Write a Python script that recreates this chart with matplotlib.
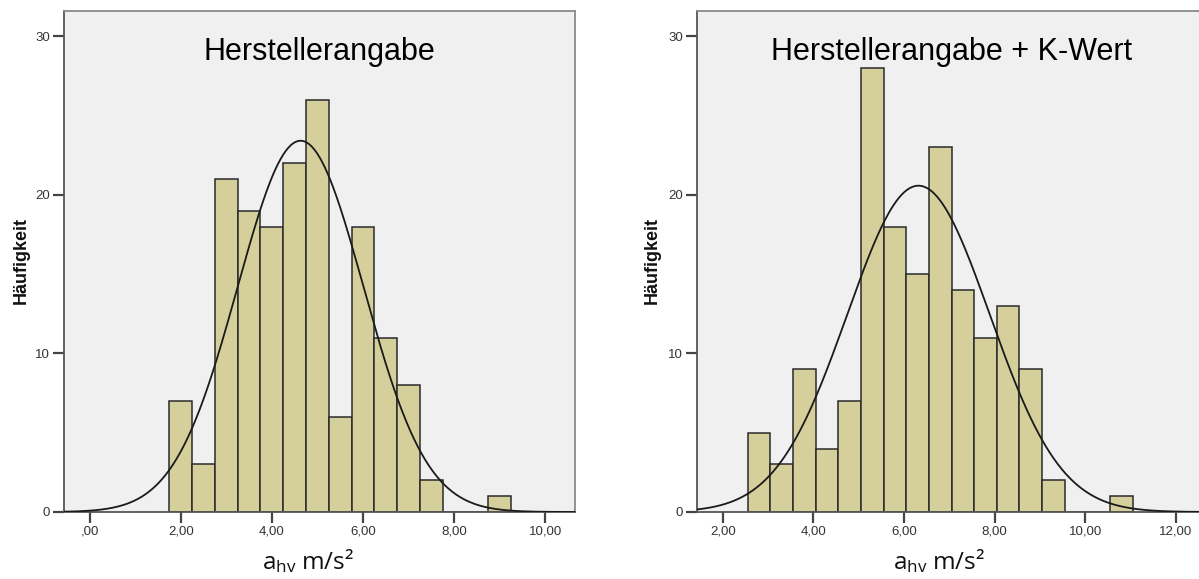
import numpy as np
import matplotlib
matplotlib.use("Agg")
import matplotlib.pyplot as plt

plt.rcParams['mathtext.fontset'] = 'custom'
plt.rcParams['mathtext.rm'] = 'Open Sans'
plt.rcParams['mathtext.it'] = 'Open Sans'

# --- Daten ---
titel = ["Herstellerangabe", "Herstellerangabe + K-Wert"]

# linkes Histogramm: Klassenbreite 0,5 ab 1,75
start_links = 1.75
counts_links = [7, 3, 21, 19, 18, 22, 26, 6, 18, 11, 8, 2, 0, 0, 1]
mittel_links = 4.63
sd_links = 1.38

# rechtes Histogramm: Klassenbreite 0,5 ab 2,55
start_rechts = 2.55
counts_rechts = [5, 3, 9, 4, 7, 28, 18, 15, 23, 14, 11, 13, 9, 2, 0, 0, 1]
mittel_rechts = 6.32
sd_rechts = 1.57

breite = 0.5
xticks_links = [0, 2, 4, 6, 8, 10]
xticks_rechts = [2, 4, 6, 8, 10, 12]
yticks = [0, 10, 20, 30]

W, H = 1199, 579
fig = plt.figure(figsize=(W / 100, H / 100), dpi=100)
fig.patch.set_facecolor("white")


def fmt(v):
    s = ("%.2f" % v).replace(".", ",")
    return s[1:] if v == 0 else s


def panel(px_left, px_width, xlim, start, counts, mu, sd, xt, title):
    ax = fig.add_axes([px_left / W, (H - 512) / H, px_width / W, (512 - 11) / H])
    ax.set_facecolor("#f0f0f0")
    edges = start + breite * np.arange(len(counts))
    ax.bar(edges, counts, width=breite, align="edge", color="#d5d09b",
           edgecolor="#2a2a2a", linewidth=1.1, zorder=2)
    n = sum(counts)
    xs = np.linspace(xlim[0], xlim[1], 400)
    ys = n * breite / (sd * np.sqrt(2 * np.pi)) * np.exp(-0.5 * ((xs - mu) / sd) ** 2)
    ax.plot(xs, ys, color="#1a1a1a", linewidth=1.3, zorder=3)
    ax.set_xlim(*xlim)
    ax.set_ylim(0, 31.6)
    ax.set_xticks(xt)
    ax.set_xticklabels([fmt(v) for v in xt])
    ax.set_yticks(yticks)
    ax.tick_params(axis="both", length=8, width=1.6, color="#444444",
                   labelsize=9.5, labelcolor="#333333", pad=2)
    for lab in ax.get_xticklabels() + ax.get_yticklabels():
        lab.set_family("Liberation Sans")
    for s in ["left", "bottom"]:
        ax.spines[s].set_color("#555555")
        ax.spines[s].set_linewidth(1.3)
    for s in ["top", "right"]:
        ax.spines[s].set_color("#8a8a8a")
        ax.spines[s].set_linewidth(1.3)
    ax.text(0.5, 1 - (52 - 11) / (512 - 11), title, transform=ax.transAxes,
            ha="center", va="center", fontsize=22, family="Liberation Sans", color="black")
    return ax


ax1 = panel(64, 511, (-0.56, 10.65), start_links, counts_links,
            mittel_links, sd_links, xticks_links, titel[0])
ax2 = panel(697, 510, (1.43, 12.69), start_rechts, counts_rechts,
            mittel_rechts, sd_rechts, xticks_rechts, titel[1])

# Achsenbeschriftungen
for xpix in [21, 652]:
    fig.text(xpix / W, (H - 260) / H, "Häufigkeit", rotation=90, ha="center", va="center",
             fontsize=13, fontweight="bold", family="Liberation Sans", color="#111111")
for xpix in [308, 939]:
    fig.text(xpix / W, (H - 569.5) / H, r"$\mathrm{a}_{\mathrm{hv}}$ m/s²", ha="center",
             va="baseline", fontsize=17.5, family="Open Sans", color="#111111")

fig.savefig("out.png", dpi=100)
